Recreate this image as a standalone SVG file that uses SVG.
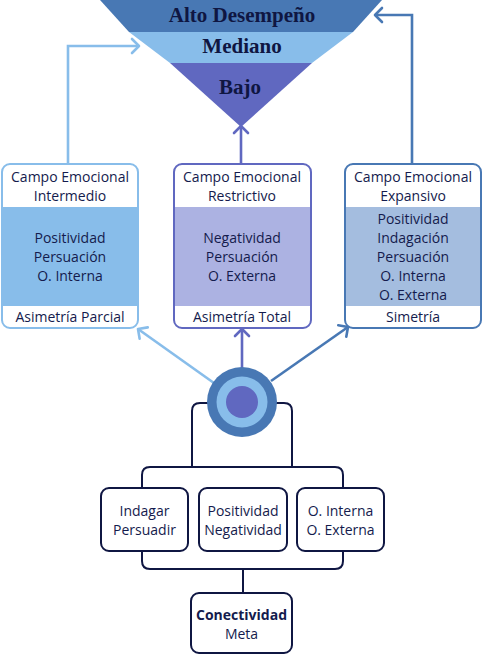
<svg xmlns="http://www.w3.org/2000/svg" width="483" height="656" viewBox="0 0 483 656">
<style>
.t{font-family:"Open Sans","Noto Sans",sans-serif;font-size:14px;fill:#141b4d;text-anchor:middle}
.b{font-weight:bold}
.h{font-family:"Liberation Serif","DejaVu Serif",serif;font-weight:bold;font-size:21px;fill:#0f1642;text-anchor:middle}
.nav{fill:none;stroke:#0f1642;stroke-width:2}
.nb{fill:#fff;stroke:#0f1642;stroke-width:2}
.c{fill:none;stroke-width:2.6}
</style>
<defs>
<marker id="aL" markerUnits="userSpaceOnUse" markerWidth="16" markerHeight="16" refX="10" refY="7" orient="auto" overflow="visible"><path d="M3,0 L10,7 L3,14" fill="none" stroke="#88bdea" stroke-width="2.6" stroke-linejoin="round" stroke-linecap="round"/></marker>
<marker id="aM" markerUnits="userSpaceOnUse" markerWidth="16" markerHeight="16" refX="10" refY="7" orient="auto" overflow="visible"><path d="M3,0 L10,7 L3,14" fill="none" stroke="#6068c0" stroke-width="2.6" stroke-linejoin="round" stroke-linecap="round"/></marker>
<marker id="aR" markerUnits="userSpaceOnUse" markerWidth="16" markerHeight="16" refX="10" refY="7" orient="auto" overflow="visible"><path d="M3,0 L10,7 L3,14" fill="none" stroke="#4878b4" stroke-width="2.6" stroke-linejoin="round" stroke-linecap="round"/></marker>
</defs>
<rect width="483" height="656" fill="#fff"/>

<g id="pyramid">
<polygon points="100,0 382,0 353,32 129,32" fill="#4878b4"/>
<polygon points="129,32 353,32 312,63 170,63" fill="#88bdea"/>
<polygon points="170,63 312,63 241,127" fill="#6068c0"/>
<text class="h" x="242" y="22">Alto Desempeño</text>
<text class="h" x="242" y="53">Mediano</text>
<text class="h" x="240" y="94">Bajo</text>
</g>

<g id="connectors">
<path class="c" stroke="#88bdea" d="M68,164 V46 H139" marker-end="url(#aL)"/>
<path class="c" stroke="#6068c0" d="M241,164 V126" marker-end="url(#aM)"/>
<path class="c" stroke="#4878b4" d="M412,164 V15 H375" marker-end="url(#aR)"/>
<path class="c" stroke="#88bdea" d="M221,388 L138,329" marker-end="url(#aL)"/>
<path class="c" stroke="#6068c0" d="M242,386 V329" marker-end="url(#aM)"/>
<path class="c" stroke="#4878b4" d="M271,381 L348,327" marker-end="url(#aR)"/>
<path class="nav" d="M192,467 V411 Q192,403 200,403 H284 Q292,403 292,411 V467"/>
<path class="nav" d="M142,488 V475 Q142,467 150,467 H335 Q343,467 343,475 V488"/>
<path class="nav" d="M142,551 V561 Q142,569 150,569 H335 Q343,569 343,561 V551"/>
<path class="nav" d="M243,569 V593"/>
</g>

<g id="box-intermedio">
<rect x="2" y="164" width="136" height="164" rx="8" fill="#fff"/>
<rect x="2" y="207" width="136" height="99" fill="#88bdea"/>
<rect x="2" y="164" width="136" height="164" rx="8" fill="none" stroke="#88bdea" stroke-width="2"/>
<text class="t" x="70" y="182">Campo Emocional</text>
<text class="t" x="70" y="201">Intermedio</text>
<text class="t" x="70" y="243">Positividad</text>
<text class="t" x="70" y="262">Persuación</text>
<text class="t" x="70" y="281">O. Interna</text>
<text class="t" x="70" y="322">Asimetría Parcial</text>
</g>

<g id="box-restrictivo">
<rect x="174" y="164" width="137" height="164" rx="8" fill="#fff"/>
<rect x="174" y="207" width="137" height="99" fill="#acb2e2"/>
<rect x="174" y="164" width="137" height="164" rx="8" fill="none" stroke="#6068c0" stroke-width="2"/>
<text class="t" x="242" y="182">Campo Emocional</text>
<text class="t" x="242" y="201">Restrictivo</text>
<text class="t" x="242" y="243">Negatividad</text>
<text class="t" x="242" y="262">Persuación</text>
<text class="t" x="242" y="281">O. Externa</text>
<text class="t" x="242" y="322">Asimetría Total</text>
</g>

<g id="box-expansivo">
<rect x="345" y="164" width="136" height="164" rx="8" fill="#fff"/>
<rect x="345" y="207" width="136" height="99" fill="#a4bddf"/>
<rect x="345" y="164" width="136" height="164" rx="8" fill="none" stroke="#4878b4" stroke-width="2"/>
<text class="t" x="413" y="182">Campo Emocional</text>
<text class="t" x="413" y="201">Expansivo</text>
<text class="t" x="413" y="224">Positividad</text>
<text class="t" x="413" y="243">Indagación</text>
<text class="t" x="413" y="262">Persuación</text>
<text class="t" x="413" y="281">O. Interna</text>
<text class="t" x="413" y="300">O. Externa</text>
<text class="t" x="413" y="322">Simetría</text>
</g>

<g id="hub">
<circle cx="242" cy="402" r="35" fill="#4878b4"/>
<circle cx="242" cy="402" r="25.5" fill="#88bdea"/>
<circle cx="242" cy="402" r="16" fill="#6068c0"/>
</g>

<g id="box-indagar">
<rect class="nb" x="101" y="488" width="87" height="63" rx="8"/>
<text class="t" x="144.5" y="516">Indagar</text>
<text class="t" x="144.5" y="535">Persuadir</text>
</g>
<g id="box-positividad">
<rect class="nb" x="199" y="488" width="88" height="63" rx="8"/>
<text class="t" x="243" y="516">Positividad</text>
<text class="t" x="243" y="535">Negatividad</text>
</g>
<g id="box-orientacion">
<rect class="nb" x="297" y="488" width="87" height="63" rx="8"/>
<text class="t" x="340.5" y="516">O. Interna</text>
<text class="t" x="340.5" y="535">O. Externa</text>
</g>
<g id="box-conectividad">
<rect class="nb" x="191" y="593" width="101" height="60" rx="8"/>
<text class="t b" x="241.5" y="620">Conectividad</text>
<text class="t" x="241.5" y="639">Meta</text>
</g>
</svg>
